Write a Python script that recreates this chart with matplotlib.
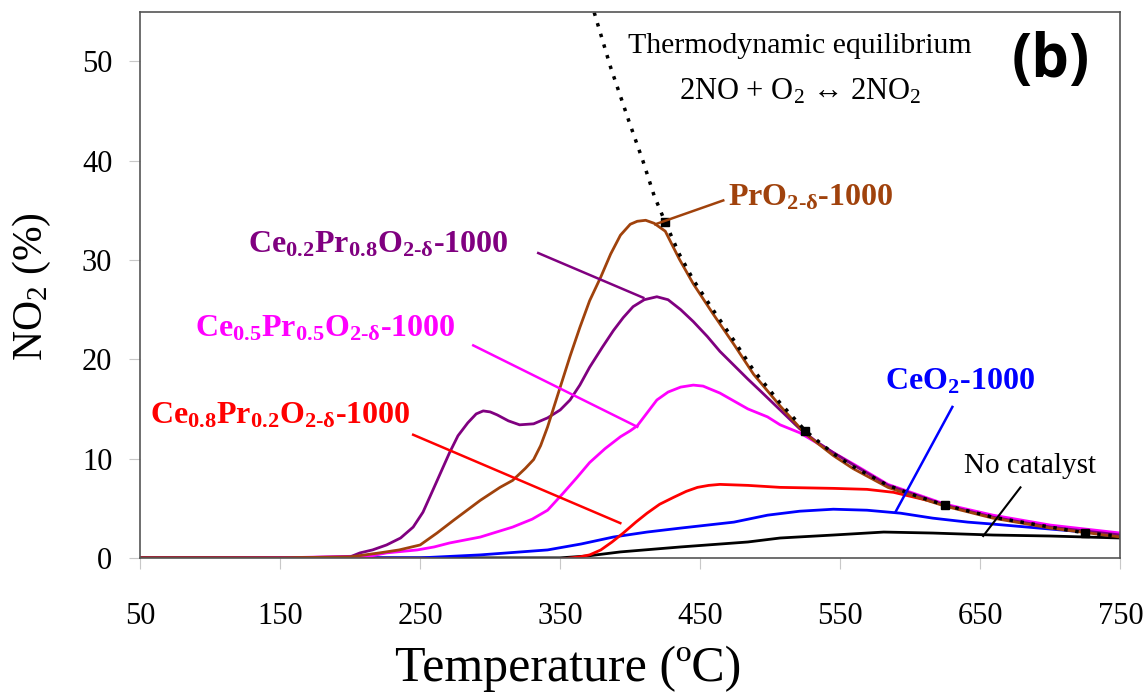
import matplotlib
matplotlib.use('Agg')
import matplotlib.pyplot as plt
import numpy as np

plt.rcParams['font.family'] = ['Liberation Serif', 'DejaVu Serif']
plt.rcParams['mathtext.fontset'] = 'custom'
plt.rcParams['mathtext.rm'] = 'Liberation Serif'
plt.rcParams['mathtext.bf'] = 'Liberation Serif:bold'
plt.rcParams['mathtext.it'] = 'Liberation Serif:italic'

# PrO2-d-1000
t_pr = [50, 150, 200, 221, 235, 250, 262, 274, 293, 307, 316, 325, 331, 336, 341, 350, 357,
        364, 371, 379, 386, 393, 400, 405, 411, 417, 425, 435, 445, 459, 474, 488, 507,
        525, 545, 559, 584, 605, 625, 659, 700, 750]
y_pr = [0, 0, 0.1, 0.5, 0.8, 1.3, 2.5, 3.8, 5.8, 7.1, 7.8, 9.0, 9.9, 11.3, 13.2, 17.2, 20.3,
        23.2, 25.9, 28.3, 30.6, 32.5, 33.6, 33.9, 34.0, 33.7, 32.9, 30.1, 27.6, 24.6, 21.5,
        18.5, 15.3, 12.5, 10.3, 9.0, 7.1, 6.1, 5.2, 4.0, 3.0, 2.1]

# Ce0.2Pr0.8O2-d-1000
t_c28 = [50, 150, 200, 207, 216, 226, 236, 245, 252, 259, 265, 271, 277, 284, 290, 295, 300,
         305, 313, 321, 331, 341, 350, 357, 364, 371, 380, 388, 395, 402, 410, 419, 427, 436,
         445, 455, 464, 474, 484, 493, 507, 521, 533, 545, 560, 584, 625, 659, 700, 750]
y_c28 = [0, 0, 0.1, 0.5, 0.8, 1.3, 2.0, 3.1, 4.6, 6.8, 8.7, 10.6, 12.3, 13.6, 14.5, 14.8, 14.7,
         14.4, 13.8, 13.4, 13.5, 14.1, 14.9, 15.9, 17.4, 19.2, 21.2, 22.9, 24.2, 25.3, 26.0, 26.3,
         26.0, 25.0, 23.8, 22.3, 20.8, 19.4, 18.0, 16.8, 14.9, 13.0, 11.7, 10.6, 9.3, 7.3, 5.3,
         4.1, 3.1, 2.3]

# Ce0.5Pr0.5O2-d-1000
t_c55 = [50, 150, 215, 226, 248, 260, 271, 293, 316, 330, 341, 352, 362, 371, 382, 393, 400,
         405, 412, 419, 427, 436, 445, 452, 464, 474, 484, 498, 507, 521, 533, 545, 560, 584,
         625, 659, 700, 750]
y_c55 = [-0.1, 0, 0.2, 0.5, 0.8, 1.1, 1.5, 2.1, 3.1, 3.9, 4.8, 6.5, 8.1, 9.6, 11.0, 12.2, 12.8,
         13.3, 14.6, 15.9, 16.7, 17.2, 17.4, 17.3, 16.6, 15.8, 15.0, 14.2, 13.4, 12.6, 11.6, 10.6,
         9.4, 7.4, 5.4, 4.3, 3.3, 2.5]

# Ce0.8Pr0.2O2-d-1000
t_c82 = [50, 150, 250, 300, 340, 364, 371, 379, 387, 395, 404, 412, 421, 431, 440, 448, 456,
         464, 484, 507, 545, 569, 588, 612, 631, 659, 700, 750]
y_c82 = [0, 0, -0.1, -0.3, -0.3, 0.1, 0.3, 0.8, 1.6, 2.5, 3.6, 4.5, 5.4, 6.1, 6.7, 7.1, 7.3,
         7.4, 7.3, 7.1, 7.0, 6.9, 6.6, 5.8, 5.1, 4.2, 3.1, 2.3]

# CeO2-1000
t_ce = [50, 150, 250, 293, 341, 365, 388, 412, 436, 474, 498, 521, 545, 569, 593, 616, 641,
        659, 700, 750]
y_ce = [0, 0, 0, 0.3, 0.8, 1.4, 2.1, 2.6, 3.0, 3.6, 4.3, 4.7, 4.9, 4.8, 4.5, 4.0, 3.6,
        3.4, 2.9, 2.3]

# No catalyst
t_nc = [50, 150, 250, 350, 370, 393, 436, 484, 507, 545, 581, 616, 659, 700, 750]
y_nc = [0, 0, 0, 0, 0.2, 0.6, 1.1, 1.6, 2.0, 2.3, 2.6, 2.5, 2.3, 2.2, 2.0]

# thermodynamic equilibrium 2NO + O2 <-> 2NO2
t_eq = [372, 386, 399, 409, 417, 425, 435, 445, 459, 474, 488, 507, 525, 545, 559, 584,
        605, 625, 659, 700, 725, 750]
y_eq = [56.0, 49.4, 44.0, 40.0, 36.5, 33.8, 30.6, 28.0, 25.0, 21.9, 18.9, 15.6, 12.8, 10.5,
        9.2, 7.3, 6.2, 5.3, 4.1, 3.1, 2.5, 2.2]
t_eq_marks = [425, 525, 625, 725]

brown = '#A0420C'
purple = '#800080'
magenta = '#FF00FF'

fig = plt.figure(figsize=(11.48, 6.93), dpi=100)
ax = fig.add_axes([0.122, 0.195, 0.854, 0.788])

lw = 2.0
ax.plot(t_nc, y_nc, color='black', lw=lw)
ax.plot(t_ce, y_ce, color='blue', lw=lw)
ax.plot(t_c82, y_c82, color='red', lw=lw)
ax.plot(t_c55, y_c55, color=magenta, lw=lw)
ax.plot(t_c28, y_c28, color=purple, lw=lw)
ax.plot(t_pr, y_pr, color=brown, lw=lw)
ax.plot(t_eq, y_eq, color='black', lw=2.5, ls=(0, (1, 2.2)))
ax.plot(t_eq_marks, np.interp(t_eq_marks, t_eq, y_eq), 's', color='black', ms=6)

ax.set_xlim(50, 750)
ax.set_ylim(0, 55)
ax.set_xticks(range(50, 751, 100))
ax.set_yticks(range(0, 51, 10))
ax.tick_params(direction='out', length=8, color='#c8c8c8', labelsize=22)
ax.tick_params(axis='x', pad=24)
ax.tick_params(axis='y', pad=12)
for s in ax.spines.values():
    s.set_color('#555555')
    s.set_linewidth(1.2)

fig.text(568 / 1148, 1 - 669 / 693, 'Temperature (ºC)', fontsize=36, ha='center', va='center')
fig.text(32 / 1148, 1 - 287 / 693, 'NO$_2$ (%)', fontsize=30, ha='center', va='center',
         rotation=90)

# annotations
lbl = dict(fontsize=23, fontweight='bold', va='center')
ax.text(470, 36.3, r'PrO$_{\mathbf{2‐δ}}$-1000', color=brown, ha='left', **lbl)
ax.plot([466.4, 417.9], [36.0, 33.6], color=brown, lw=1.8)

ax.text(127, 31.5, r'Ce$_{\mathbf{0.2}}$Pr$_{\mathbf{0.8}}$O$_{\mathbf{2‐δ}}$-1000',
        color=purple, ha='left', **lbl)
ax.plot([334.3, 409.3], [30.7, 26.2], color=purple, lw=1.8)

ax.text(89, 23.1, r'Ce$_{\mathbf{0.5}}$Pr$_{\mathbf{0.5}}$O$_{\mathbf{2‐δ}}$-1000',
        color=magenta, ha='left', **lbl)
ax.plot([287.9, 405], [21.4, 13.2], color=magenta, lw=1.8)

ax.text(57, 14.3, r'Ce$_{\mathbf{0.8}}$Pr$_{\mathbf{0.2}}$O$_{\mathbf{2‐δ}}$-1000',
        color='red', ha='left', **lbl)
ax.plot([245, 392.9], [12.4, 3.5], color='red', lw=1.8)

ax.text(582, 17.7, r'CeO$_{\mathbf{2}}$-1000', color='blue', ha='left', **lbl)
ax.plot([630, 589.3], [15.2, 4.6], color='blue', lw=1.8)

ax.text(638, 9.3, 'No catalyst', color='black', ha='left', va='center', fontsize=21)
ax.plot([678.6, 652], [7.1, 2.2], color='black', lw=1.5)

ax.text(521, 51.6, 'Thermodynamic equilibrium', ha='center', va='center', fontsize=21.5)
ax.text(521, 46.9, '2NO + O$_2$ ↔ 2NO$_2$', ha='center', va='center', fontsize=22,
        family=['Liberation Serif', 'DejaVu Serif'])
ax.text(700, 50.0, '(b)', ha='center', va='center', fontsize=43, fontweight='bold',
        family=['Open Sans', 'DejaVu Sans'])

fig.savefig('out.png', dpi=100)
